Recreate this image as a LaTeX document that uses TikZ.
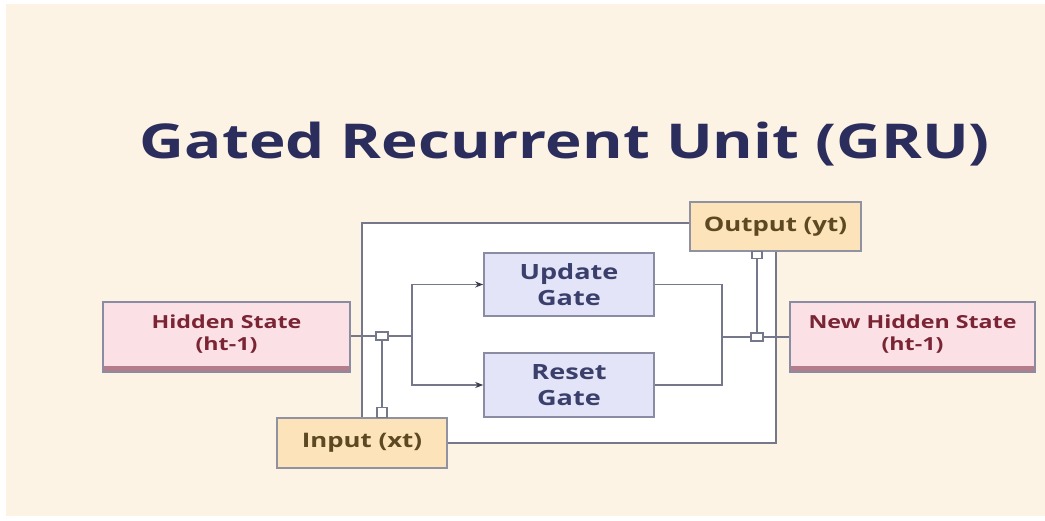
\documentclass[tikz,border=0pt]{standalone}
\usepackage{fontspec}
\usepackage{graphicx}
\setmainfont{Open Sans}
\usetikzlibrary{arrows.meta}

\definecolor{cream}{HTML}{FDF3E5}
\definecolor{wire}{HTML}{75778A}
\definecolor{tipcol}{HTML}{3A3C4C}
\definecolor{pinkfill}{HTML}{FBE1E6}
\definecolor{pinkedge}{HTML}{B57C8A}
\definecolor{pinktext}{HTML}{7A2434}
\definecolor{orangefill}{HTML}{FCE3B9}
\definecolor{orangetext}{HTML}{5C4822}
\definecolor{gatefill}{HTML}{E4E4F8}
\definecolor{gateedge}{HTML}{8A8CA4}
\definecolor{gatetext}{HTML}{3A3F6C}
\definecolor{titlecol}{HTML}{2B2E5C}

% wide lettering used throughout
\newcommand{\widetxt}[1]{\scalebox{1.29}[1]{#1}}

\tikzset{
  wireline/.style={draw=wire, line width=1.7pt},
  arrowline/.style={wireline, -{Stealth[length=8pt,width=6pt,color=tipcol]}},
  statebox/.style={draw=gateedge, fill=pinkfill, line width=1.4pt, text=pinktext,
    font=\fontsize{18}{22}\selectfont\bfseries, align=center, inner sep=0pt},
  iobox/.style={draw=wire!80, fill=orangefill, line width=1.4pt, text=orangetext,
    font=\fontsize{20}{24}\selectfont\bfseries, align=center, inner sep=0pt},
  gatebox/.style={draw=gateedge, fill=gatefill, line width=1.6pt, text=gatetext,
    font=\fontsize{21}{26}\selectfont\bfseries, align=center, inner sep=0pt},
  joint/.style={draw=wire, fill=white, line width=1.3pt, inner sep=0pt}
}

\begin{document}
\begin{tikzpicture}[x=1pt, y=-1pt]
  % page and backdrop
  \fill[white] (0,0) rectangle (1045,520);
  \fill[cream] (6,4) rectangle (1045,516);
  \useasboundingbox (0,0) rectangle (1045,520);

  % title
  \node[text=titlecol, font=\fontsize{48}{52}\selectfont\bfseries] (title) at (565,144) {\widetxt{Gated Recurrent Unit (GRU)}};

  % white working area
  \fill[white] (362,223) rectangle (776,443);

  % blocks
  \node[statebox, minimum width=247pt, minimum height=70pt] (hs) at (226.5,337) {};
  \node[statebox, minimum width=245pt, minimum height=70pt] (nhs) at (912.5,337) {};
  \draw[pinkedge, line width=5pt] (104,368.5) -- (349,368.5);
  \draw[pinkedge, line width=5pt] (791,368.5) -- (1034,368.5);
  \node[text=pinktext, font=\fontsize{18}{22}\selectfont\bfseries, align=center] (hslabel) at (226.5,334) {\widetxt{Hidden State}\\\widetxt{(ht-1)}};
  \node[text=pinktext, font=\fontsize{18}{22}\selectfont\bfseries, align=center] (nhslabel) at (912.5,334) {\widetxt{New Hidden State}\\\widetxt{(ht-1)}};

  \node[iobox, minimum width=170pt, minimum height=50pt] (inp) at (362,443) {\widetxt{Input (xt)}};
  \node[iobox, minimum width=171pt, minimum height=49pt] (out) at (775.5,226.5) {\widetxt{Output (yt)}};

  \node[gatebox, minimum width=170pt, minimum height=63pt] (upd) at (569,284.5) {\widetxt{Update}\\\widetxt{Gate}};
  \node[gatebox, minimum width=170pt, minimum height=64pt] (rst) at (569,385) {\widetxt{Reset}\\\widetxt{Gate}};

  % junction pads
  \node[joint, minimum width=12pt, minimum height=8pt] (p1) at (382,336) {};
  \node[joint, minimum width=10pt, minimum height=10pt, anchor=south] (p2) at (382,418) {};
  \node[joint, minimum width=10pt, minimum height=7pt, anchor=north] (p3) at (757,251) {};
  \node[joint, minimum width=12pt, minimum height=8pt] (p4) at (757,337) {};

  \coordinate (split) at (412,336);
  \coordinate (merge) at (722,337);
  \coordinate (tl) at (362,223);
  \coordinate (br) at (776,443);

  % hidden state into the gates
  \draw[wireline] (hs.east |- p1) -- (p1.west);
  \draw[wireline] (p1.east) -- (split);
  \draw[arrowline] (split) |- (upd.west);
  \draw[arrowline] (split) |- (rst.west);
  \draw[wireline] (p1.south) -- (p2.north);

  % gates into the new hidden state
  \draw[wireline] (upd.east) -| (merge);
  \draw[wireline] (rst.east) -| (merge);
  \draw[wireline] (merge) -- (p4.west);
  \draw[wireline] (p4.east) -- (nhs.west |- p4);
  \draw[wireline] (p3.south) -- (p4.north);

  % outer loop between input and output
  \draw[wireline] (out.west |- tl) -- (tl) -- (tl |- inp.north);
  \draw[wireline] (inp.east |- br) -- (br) -- (br |- out.south);
\end{tikzpicture}
\end{document}
